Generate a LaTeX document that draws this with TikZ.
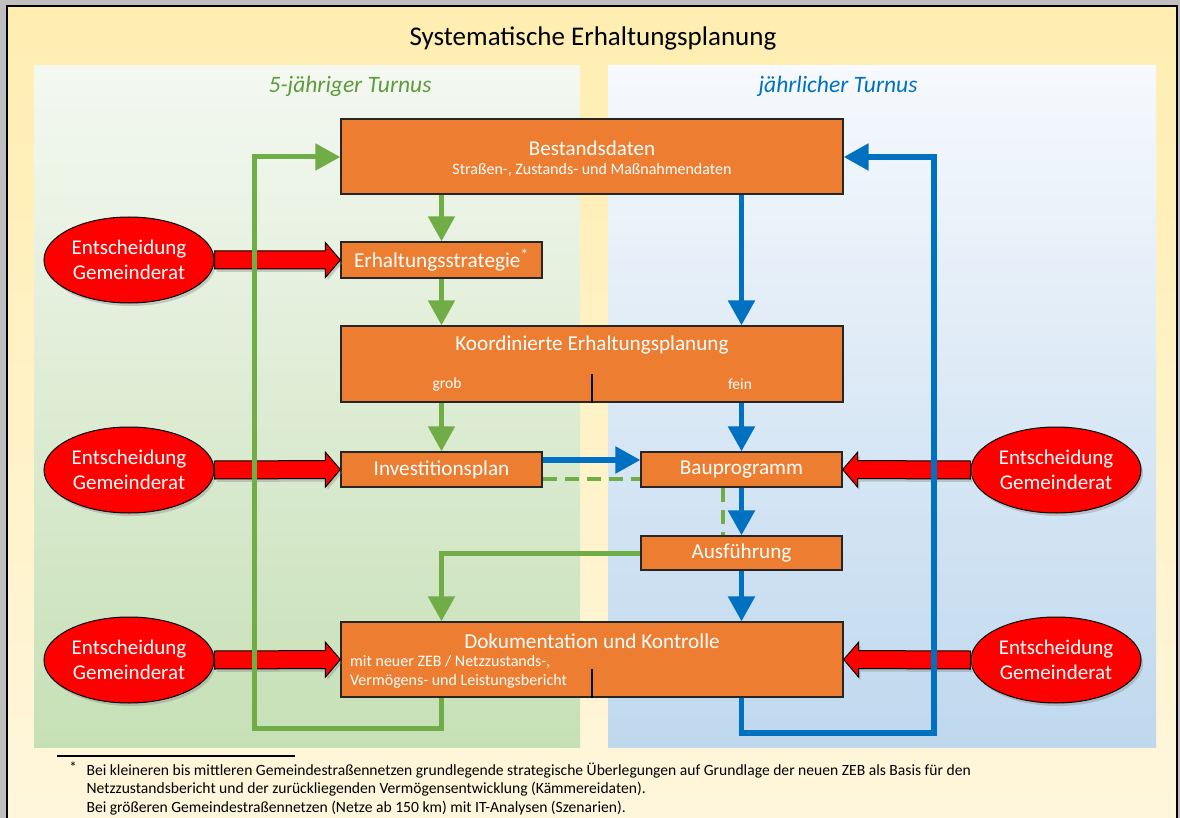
\documentclass[tikz,border=0pt]{standalone}
\usepackage{fontspec}
\setmainfont{Carlito}
\usetikzlibrary{positioning, arrows.meta, shapes.geometric, calc, shadows}

\definecolor{boxorange}{HTML}{ED7D31}
\definecolor{flowgreen}{HTML}{70AD47}
\definecolor{titlegreen}{HTML}{5E9B3C}
\definecolor{flowblue}{HTML}{0070C0}
\definecolor{councilred}{HTML}{FF0000}
\definecolor{frametop}{HTML}{FFEEB0}
\definecolor{framemid}{HTML}{FFE396}
\definecolor{framebot}{HTML}{FFF6DC}
\definecolor{greentop}{HTML}{F4F8F1}
\definecolor{greenbot}{HTML}{C6E0B6}
\definecolor{bluetop}{HTML}{F6F9FD}
\definecolor{bluebot}{HTML}{BFD8EE}

% block arrow from #1 to #2
\newcommand{\blockarrow}[2]{%
  \coordinate (ba) at ($(#2)!15pt!(#1)$);
  \draw[decisionarrow] ($(#1)!9pt!90:(#2)$) -- ($(ba)!9pt!-90:(#1)$)
    -- ($(ba)!17.5pt!-90:(#1)$) -- (#2) -- ($(ba)!17.5pt!90:(#1)$)
    -- ($(ba)!9pt!90:(#1)$) -- ($(#1)!9pt!-90:(#2)$) -- cycle;}

\begin{document}
\begin{tikzpicture}[x=1pt, y=-1pt,
    box/.style={rectangle, draw=black!85, line width=1.3pt, fill=boxorange,
                text=white, inner sep=0pt, font=\fontsize{21.2}{25}\selectfont},
    boxtext/.style={text=white, inner sep=0pt, align=center},
    decision/.style={ellipse, draw=black, line width=1pt, fill=councilred,
                     text=white, minimum width=170pt, minimum height=86pt,
                     inner sep=0pt, align=center,
                     font=\fontsize{21}{25.5}\selectfont,
                     drop shadow={opacity=0.35, shadow xshift=2pt, shadow yshift=-3pt}},
    decisionarrow/.style={draw=black, line width=1pt, fill=councilred,
                          drop shadow={opacity=0.35, shadow xshift=2pt, shadow yshift=-3pt}},
    garrow/.style={-{Triangle[length=25pt, width=26pt]}, line width=5pt, draw=flowgreen},
    barrow/.style={-{Triangle[length=25pt, width=26pt]}, line width=5.5pt, draw=flowblue},
    gdash/.style={line width=4.5pt, draw=flowgreen, dash pattern=on 14pt off 8pt}
]

    \useasboundingbox (0,0) rectangle (1180,818);

    % frame and panels
    \fill[black!25] (0,0) rectangle (1180,818);
    \shade[top color=frametop, middle color=framemid, bottom color=framebot] (7,6) rectangle (1177,818);
    \draw[line width=2pt] (7,818) -- (7,6) -- (1177,6) -- (1177,818);
    \shade[top color=greentop, bottom color=greenbot] (34,66) rectangle (580,747);
    \shade[top color=bluetop, bottom color=bluebot] (608,66) rectangle (1156,747);

    % headings
    \node[font=\fontsize{27}{31}\selectfont] (title) at (593,38) {Systematische Erhaltungsplanung};
    \node[font=\fontsize{23.5}{27}\selectfont\itshape, text=titlegreen] (fiveyear) at (350,86) {5-jähriger Turnus};
    \node[font=\fontsize{23.5}{27}\selectfont\itshape, text=flowblue] (yearly) at (838,86) {jährlicher Turnus};

    % process boxes
    \node[box, minimum width=502pt, minimum height=75pt] (bestand) at (592,156.5) {};
    \node[boxtext, font=\fontsize{21}{25}\selectfont] (bestandtitle) at (592,148) {Bestandsdaten};
    \node[boxtext, font=\fontsize{16}{19}\selectfont] (bestandsub) at (592,170) {Straßen-, Zustands- und Maßnahmendaten};

    \node[box, minimum width=201pt, minimum height=36pt] (strat) at (441.5,260) {Erhaltungsstrategie\textsuperscript{\fontsize{16}{16}\selectfont *}};

    \node[box, minimum width=502pt, minimum height=76pt] (koord) at (592,364) {};
    \node[boxtext, font=\fontsize{21.2}{25}\selectfont] (koordtitle) at (592,345) {Koordinierte Erhaltungsplanung};
    \node[boxtext, font=\fontsize{15.5}{18}\selectfont] (grob) at (447,384) {grob};
    \node[boxtext, font=\fontsize{15.5}{18}\selectfont] (fein) at (740,384) {fein};
    \draw[line width=1.3pt] (koord.south) -- ++(0,-29);

    \node[box, minimum width=201pt, minimum height=35pt] (invest) at (441.5,469.5) {Investitionsplan};
    \node[box, minimum width=201pt, minimum height=35pt] (bau) at (741.5,469.5) {Bauprogramm};
    \node[box, minimum width=201pt, minimum height=34pt] (ausf) at (741.5,553) {Ausführung};

    \node[box, minimum width=502pt, minimum height=75pt] (doku) at (592,659.5) {};
    \node[boxtext, font=\fontsize{21.2}{25}\selectfont] (dokutitle) at (592,641) {Dokumentation und Kontrolle};
    \node[boxtext, anchor=west, align=left, font=\fontsize{16}{19.5}\selectfont] (dokusub) at (350,672)
        {mit neuer ZEB / Netzzustands-,\\Vermögens- und Leistungsbericht};
    \draw[line width=1.3pt] (doku.south) -- ++(0,-29);

    % council decisions
    \node[decision] (dec1) at (129,260) {Entscheidung\\Gemeinderat};
    \node[decision] (dec2) at (129,470) {Entscheidung\\Gemeinderat};
    \node[decision] (dec3) at (129,660) {Entscheidung\\Gemeinderat};
    \node[decision] (dec4) at (1056,470) {Entscheidung\\Gemeinderat};
    \node[decision] (dec5) at (1056,660) {Entscheidung\\Gemeinderat};

    \blockarrow{dec1.east}{strat.west}
    \blockarrow{dec2.east}{invest.west}
    \blockarrow{dec3.east}{doku.west}
    \blockarrow{dec4.west}{bau.east}
    \blockarrow{dec5.west}{doku.east}

    % 5-year cycle
    \coordinate (gbottom) at (254,728);
    \coordinate (gtop) at (254,157);
    \draw[garrow] (bestand.south -| strat) -- (strat.north);
    \draw[garrow] (strat.south) -- (koord.north -| strat);
    \draw[garrow] (koord.south -| invest) -- (invest.north);
    \draw[garrow] (ausf.west) -| (doku.north -| invest);
    \draw[garrow] (doku.south -| invest) |- (gbottom) -- (gtop) -- (gtop -| bestand.west);
    \draw[gdash] ($(invest.east)+(0,9.5)$) -- ($(bau.west)+(0,9.5)$);
    \draw[gdash] ($(bau.south)+(-18.5,0)$) -- ($(ausf.north)+(-18.5,0)$);

    % yearly cycle
    \coordinate (bbottom) at (934,733);
    \coordinate (btop) at (934,157);
    \draw[barrow] (bestand.south -| bau) -- (koord.north -| bau);
    \draw[barrow] (koord.south -| bau) -- (bau.north);
    \draw[barrow] ($(invest.east)+(0,-9.5)$) -- ($(bau.west)+(0,-9.5)$);
    \draw[barrow] (bau.south) -- (ausf.north);
    \draw[barrow] (ausf.south) -- (doku.north -| ausf);
    \draw[barrow] (doku.south -| bau) |- (bbottom) -- (btop) -- (btop -| bestand.east);

    % footnote
    \draw[line width=1.2pt] (57,756) -- (295,756);
    \node[font=\fontsize{15}{15}\selectfont] (star) at (73,767) {*};
    \node[anchor=west, align=left, font=\fontsize{15.6}{18.5}\selectfont] (footnote) at (83,789)
        {Bei kleineren bis mittleren Gemeindestraßennetzen grundlegende strategische Überlegungen auf Grundlage der neuen ZEB als Basis für den\\
         Netzzustandsbericht und der zurückliegenden Vermögensentwicklung (Kämmereidaten).\\
         Bei größeren Gemeindestraßennetzen (Netze ab 150 km) mit IT-Analysen (Szenarien).};

\end{tikzpicture}
\end{document}
